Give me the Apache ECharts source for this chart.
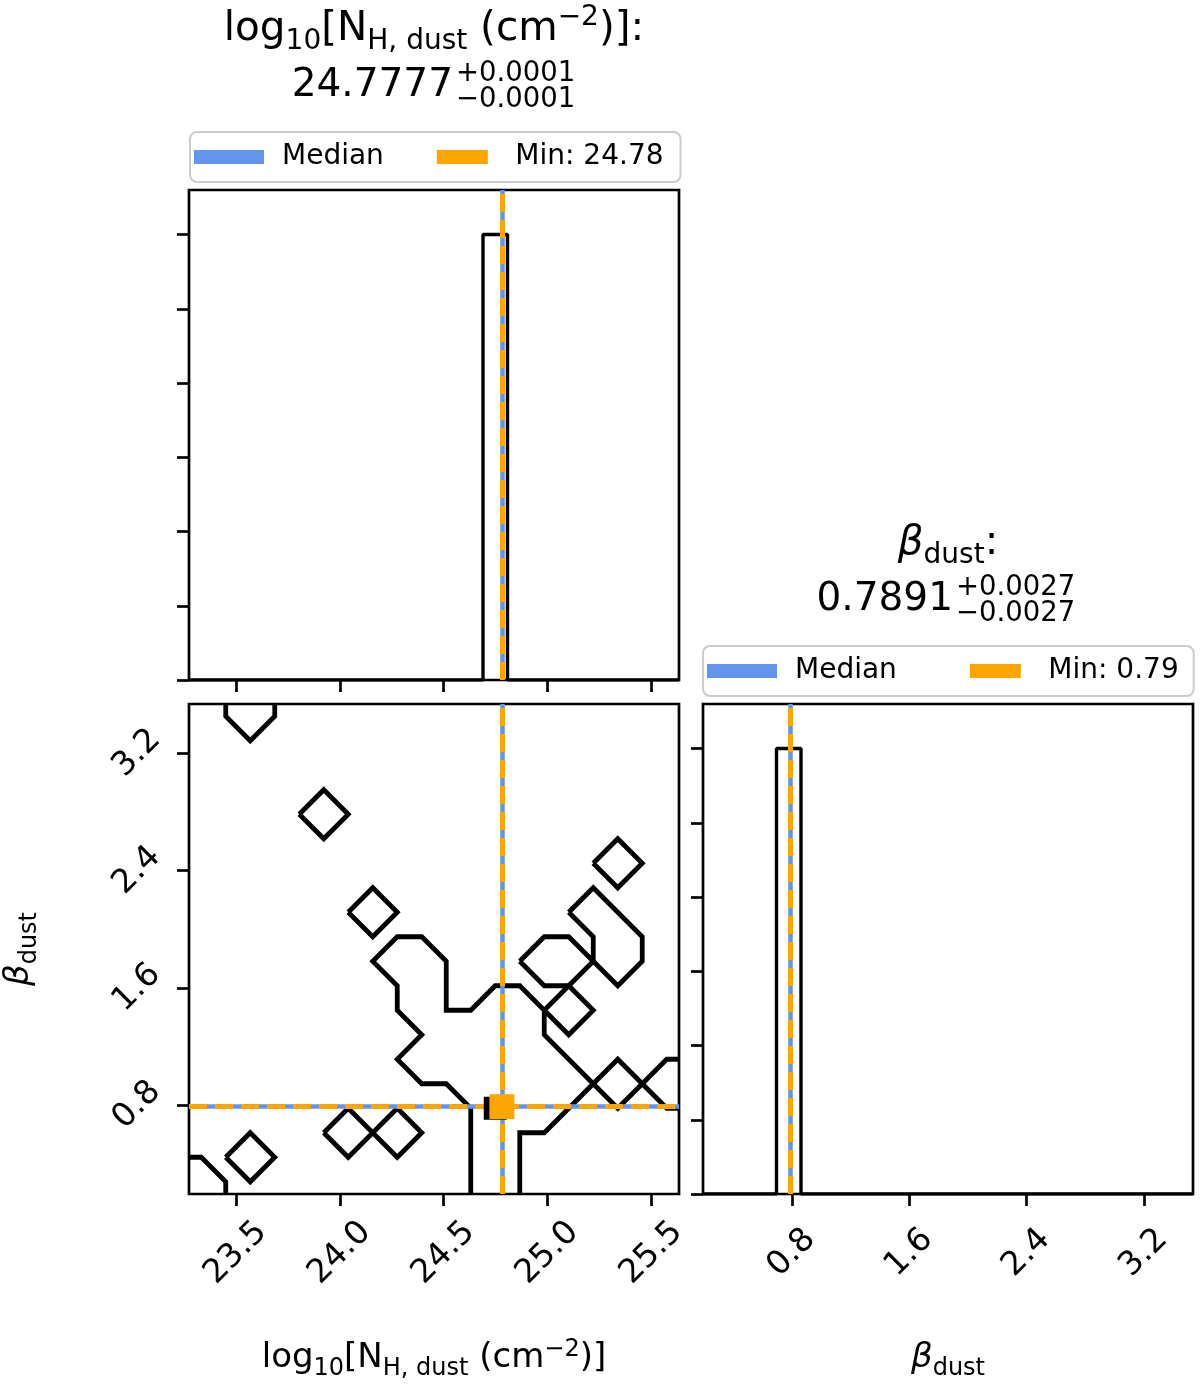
<!DOCTYPE html>
<html>
<head>
<meta charset="utf-8">
<title>corner plot</title>
<script src="https://cdn.jsdelivr.net/npm/echarts@6/dist/echarts.min.js"></script>
<style>
  html, body { margin: 0; padding: 0; background: #fff; }
  #chart { width: 1200px; height: 1385px; }
</style>
</head>
<body>
<div id="chart"></div>
<script>
// axis ranges of the two parameters
const NH_RANGE = [23.2745, 25.632]
const BETA_RANGE = [0.195, 3.535]
const N_BINS = 20

const NH_TICKS = [23.5, 24.0, 24.5, 25.0, 25.5]
const BETA_TICKS = [0.8, 1.6, 2.4, 3.2]
const COUNT_TICKS = [0, 1, 2, 3, 4, 5, 6]
const COUNT_MAX = 6.6

// 1d histograms, 20 bins over the axis range
const NH_COUNTS = [0, 0, 0, 0, 0, 0, 0, 0, 0, 0, 0, 0, 6, 0, 0, 0, 0, 0, 0, 0]
const BETA_COUNTS = [0, 0, 0, 6, 0, 0, 0, 0, 0, 0, 0, 0, 0, 0, 0, 0, 0, 0, 0, 0]

const NH_MEDIAN = 24.7777
const NH_MIN = 24.78
const BETA_MEDIAN = 0.7891
const BETA_MIN = 0.79

// 2d contour paths in bin-node units (node i = centre of bin i, -0.5 / 19.5 = panel edge)
const CONTOURS = [
  [[1, 19.5], [1, 19], [2, 18], [3, 19], [3, 19.5]],
  [[4, 15], [5, 16], [6, 15], [5, 14], [4, 15]],
  [[6, 11], [7, 12], [8, 11], [7, 10], [6, 11]],
  [[16, 13], [17, 14], [18, 13], [17, 12], [16, 13]],
  [[11, -0.5], [11, 3], [10, 4], [9, 4], [8, 5], [9, 6], [8, 7], [8, 8], [7, 9], [8, 10], [9, 10], [10, 9],
    [10, 7], [11, 7], [12, 8], [13, 8], [14, 7], [14, 6], [17, 3], [19, 5], [19.5, 5]],
  [[13, 9], [14, 10], [15, 10], [16, 9], [15, 8], [14, 8], [13, 9]],
  [[15, 11], [16, 12], [18, 10], [18, 9], [17, 8], [16, 9], [16, 10], [15, 11]],
  [[14, 7], [15, 8], [16, 7], [15, 6], [14, 7]],
  [[13, -0.5], [13, 2], [14, 2], [17, 5], [19, 3], [19.5, 3]],
  [[-0.5, 1], [0, 1], [1, 0], [1, -0.5]],
  [[1, 1], [2, 2], [3, 1], [2, 0], [1, 1]],
  [[5, 2], [6, 3], [7, 2], [6, 1], [5, 2]],
  [[7, 2], [8, 3], [9, 2], [8, 1], [7, 2]]
]
const PEAK_NODE = [12, 3]

const FONT = '"DejaVu Sans", sans-serif'
const BLUE = '#6495ED'
const ORANGE = '#FFA500'

const nhStep = (NH_RANGE[1] - NH_RANGE[0]) / N_BINS
const betaStep = (BETA_RANGE[1] - BETA_RANGE[0]) / N_BINS

function nodeToValue(p) {
  return [NH_RANGE[0] + (p[0] + 0.5) * nhStep, BETA_RANGE[0] + (p[1] + 0.5) * betaStep]
}

// outline of a step histogram
function stepPoints(counts, range) {
  const w = (range[1] - range[0]) / counts.length
  const pts = [[range[0], 0]]
  counts.forEach((c, k) => {
    pts.push([range[0] + k * w, c])
    pts.push([range[0] + (k + 1) * w, c])
  })
  pts.push([range[1], 0])
  return pts
}

function refLine(name, grid, color, width, dash, marks, z) {
  return {
    type: 'line', name: name, xAxisIndex: grid, yAxisIndex: grid, data: [], color: color,
    silent: true,
    markLine: {
      silent: true, symbol: ['none', 'none'], z: z, animation: false,
      label: { show: false },
      emphasis: { disabled: true },
      lineStyle: { color: color, width: width, type: dash, opacity: 1 },
      data: marks
    }
  }
}

const tickStyle = { show: true, length: 12, lineStyle: { color: '#000', width: 2.7 } }
const labelStyle = {
  rotate: 45, align: 'center', verticalAlign: 'middle',
  color: '#000', fontSize: 33, fontFamily: FONT,
  formatter: v => v.toFixed(1)
}
const mathRich = {
  r: { fontSize: 34, fontFamily: FONT, color: '#000', lineHeight: 43 },
  i: { fontSize: 34, fontFamily: FONT, fontStyle: 'italic', color: '#000', lineHeight: 43 },
  s: { fontSize: 24, fontFamily: FONT, color: '#000', height: 23, lineHeight: 23, verticalAlign: 'bottom' },
  p: { fontSize: 24, fontFamily: FONT, color: '#000', height: 25, lineHeight: 25, verticalAlign: 'top' }
}
const titleRich = {
  r: { fontSize: 40.5, fontFamily: FONT, fill: '#000', lineHeight: 52 },
  i: { fontSize: 40.5, fontFamily: FONT, fontStyle: 'italic', fill: '#000', lineHeight: 52 },
  s: { fontSize: 28, fontFamily: FONT, fill: '#000', height: 27, lineHeight: 27, verticalAlign: 'bottom' },
  p: { fontSize: 28, fontFamily: FONT, fill: '#000', height: 29, lineHeight: 29, verticalAlign: 'top' }
}
const NH_LABEL = '{r|log}{s|10}{r|[N}{s|H, dust}{r| (cm}{p|−2}{r|)]}'
const BETA_LABEL = '{i|β}{s|dust}'

function valueAxis(grid, range, ticks, showLabels, extra) {
  return Object.assign({
    type: 'value', gridIndex: grid, min: range[0], max: range[1],
    axisLine: { show: false },
    splitLine: { show: false },
    axisTick: Object.assign({ customValues: ticks }, tickStyle),
    axisLabel: Object.assign({ show: showLabels, customValues: ticks }, labelStyle),
    nameMoveOverlap: false
  }, extra || {})
}

function title(cx, top, line1, value, plus, minus, anchor) {
  const style = { fill: '#000', fontFamily: FONT }
  return [
    { type: 'text', x: cx, y: top, style: Object.assign({ text: line1, rich: titleRich, align: 'center', verticalAlign: 'middle', fontSize: 40.5 }, style) },
    { type: 'text', x: anchor, y: top + 57, style: Object.assign({ text: value, align: 'right', verticalAlign: 'middle', fontSize: 39 }, style) },
    { type: 'text', x: anchor + 3, y: top + 45, style: Object.assign({ text: plus, align: 'left', verticalAlign: 'middle', fontSize: 27.5 }, style) },
    { type: 'text', x: anchor + 3, y: top + 71, style: Object.assign({ text: minus, align: 'left', verticalAlign: 'middle', fontSize: 27.5 }, style) }
  ]
}

function legend(left, top, gap, padRight, names) {
  return {
    left: left, top: top, orient: 'horizontal', selectedMode: false,
    itemWidth: 70, itemHeight: 14, itemGap: gap,
    padding: [8, padRight, 8, 4],
    backgroundColor: '#fff', borderColor: '#cccccc', borderWidth: 2, borderRadius: 7,
    itemStyle: { borderWidth: 0 },
    textStyle: { fontSize: 28, fontFamily: FONT, color: '#000', lineHeight: 34, padding: [0, 0, 0, 13] },
    data: [
      { name: names[0], icon: 'rect', itemStyle: { color: BLUE } },
      { name: names[1], icon: 'path://M0,0H51V14H0Z', itemStyle: { color: ORANGE } }
    ]
  }
}

const series = []
series.push({
  type: 'line', name: 'hist_nh', xAxisIndex: 0, yAxisIndex: 0, silent: true,
  data: stepPoints(NH_COUNTS, NH_RANGE), symbol: 'none',
  lineStyle: { color: '#000', width: 3.4 }, z: 2
})
series.push({
  type: 'line', name: 'hist_beta', xAxisIndex: 2, yAxisIndex: 2, silent: true,
  data: stepPoints(BETA_COUNTS, BETA_RANGE), symbol: 'none',
  lineStyle: { color: '#000', width: 3.4 }, z: 2
})
CONTOURS.forEach((path, k) => {
  series.push({
    type: 'line', name: 'contour' + k, xAxisIndex: 1, yAxisIndex: 1, silent: true,
    data: path.map(nodeToValue), symbol: 'none',
    lineStyle: { color: '#000', width: 4.8, join: 'miter' }, z: 2
  })
})
const dash = [18, 8]
series.push(refLine('Median', 0, BLUE, 4.5, 'solid', [{ xAxis: NH_MEDIAN }], 3))
series.push(refLine('Min: 24.78', 0, ORANGE, 5, dash, [{ xAxis: NH_MIN }], 4))
series.push(refLine('Median', 1, BLUE, 4.5, 'solid', [{ xAxis: NH_MEDIAN }, { yAxis: BETA_MEDIAN }], 3))
series.push(refLine('Min: 24.78', 1, ORANGE, 5, dash, [{ xAxis: NH_MIN }, { yAxis: BETA_MIN }], 4))
series.push(refLine('Median', 2, BLUE, 4.5, 'solid', [{ xAxis: BETA_MEDIAN }], 3))
series.push(refLine('Min: 0.79', 2, ORANGE, 5, dash, [{ xAxis: BETA_MIN }], 4))
series.push({
  type: 'scatter', name: 'peak', xAxisIndex: 1, yAxisIndex: 1, silent: true,
  data: [nodeToValue(PEAK_NODE)], symbol: 'rect', symbolSize: 23,
  itemStyle: { color: '#000', opacity: 1 }, z: 6
})
series.push({
  type: 'scatter', name: 'Min: 24.78', xAxisIndex: 1, yAxisIndex: 1, silent: true,
  data: [[NH_MIN, BETA_MIN]], symbol: 'rect', symbolSize: 25,
  itemStyle: { color: ORANGE, opacity: 1 }, z: 7
})

const gridBox = { show: true, borderColor: '#000', borderWidth: 2.7, backgroundColor: 'transparent', outerBoundsMode: 'none' }

const chart = echarts.init(document.getElementById('chart'))
chart.setOption({
  animation: false,
  backgroundColor: '#fff',
  textStyle: { fontFamily: FONT },
  grid: [
    Object.assign({ left: 189, top: 190, width: 490, height: 490 }, gridBox),
    Object.assign({ left: 189, top: 704, width: 490, height: 490 }, gridBox),
    Object.assign({ left: 703, top: 704, width: 490, height: 490 }, gridBox)
  ],
  xAxis: [
    valueAxis(0, NH_RANGE, NH_TICKS, false),
    valueAxis(1, NH_RANGE, NH_TICKS, true, {
      name: NH_LABEL, nameLocation: 'middle', nameGap: 143,
      nameTextStyle: { rich: mathRich }
    }),
    valueAxis(2, BETA_RANGE, BETA_TICKS, true, {
      name: BETA_LABEL, nameLocation: 'middle', nameGap: 143,
      nameTextStyle: { rich: mathRich }
    })
  ],
  yAxis: [
    valueAxis(0, [0, COUNT_MAX], COUNT_TICKS, false),
    valueAxis(1, BETA_RANGE, BETA_TICKS, true, {
      name: BETA_LABEL, nameLocation: 'middle', nameGap: 148, nameRotate: 90,
      nameTextStyle: { rich: mathRich }
    }),
    valueAxis(2, [0, COUNT_MAX], COUNT_TICKS, false)
  ],
  legend: [
    legend(190, 132, 53, 17, ['Median', 'Min: 24.78']),
    legend(703, 646, 73, 15, ['Median', 'Min: 0.79'])
  ],
  graphic: [].concat(
    title(434, 29, '{r|log}{s|10}{r|[N}{s|H, dust}{r| (cm}{p|−2}{r|)]:}', '24.7777', '+0.0001', '−0.0001', 453),
    title(948, 543, '{i|β}{s|dust}{r|:}', '0.7891', '+0.0027', '−0.0027', 953)
  ),
  series: series
})
// rotated tick labels centred below / left of the ticks, like matplotlib
chart.setOption({
  xAxis: [{}, { axisLabel: { margin: 59 } }, { axisLabel: { margin: 59 } }],
  yAxis: [{}, { axisLabel: { margin: 52 } }, {}]
})
</script>
</body>
</html>
